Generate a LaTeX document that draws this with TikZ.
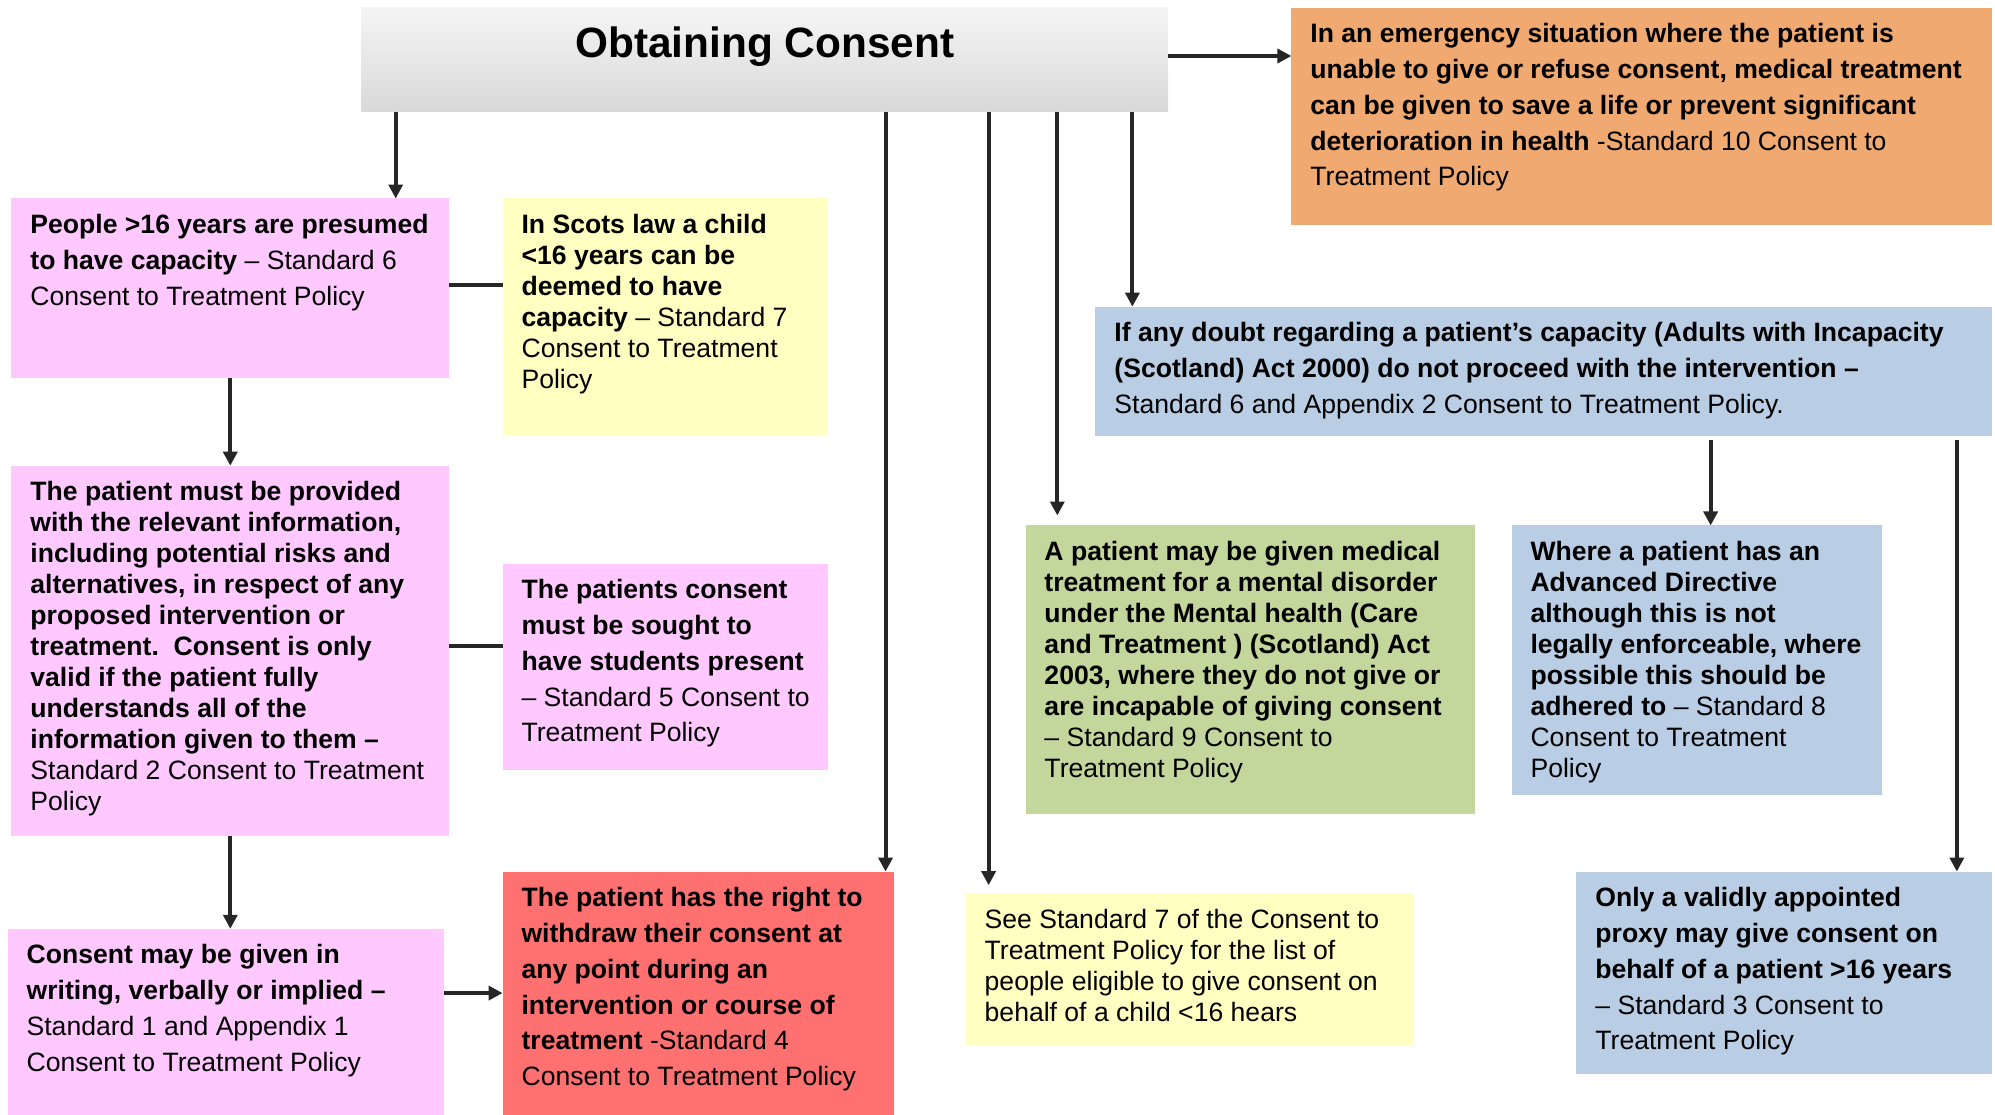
\documentclass[tikz,border=0pt]{standalone}
\usepackage{fontspec}
\setmainfont{Liberation Sans}
\usetikzlibrary{arrows.meta,calc}

\definecolor{cardpink}{HTML}{FFC9FF}
\definecolor{cardyellow}{HTML}{FFFFC1}
\definecolor{cardorange}{HTML}{F0A970}
\definecolor{cardblue}{HTML}{B9CDE4}
\definecolor{cardgreen}{HTML}{C3D69B}
\definecolor{cardred}{HTML}{FF7070}
\definecolor{linkgray}{HTML}{262626}

\newdimen\px \px=0.6366pt
% box text: width, height (in px), contents
\newcommand{\cardtext}[3]{\parbox[c][#2\px][t]{#1\px}{\raggedright\leftskip=9.5pt\rule{0pt}{17.6pt}#3}}

\tikzset{
  card/.style={anchor=north west, inner sep=0pt, outer sep=0pt, font=\fontsize{13.3}{17.9}\selectfont},
  cardS/.style={card, font=\fontsize{13.3}{15.5}\selectfont},
  arr/.style={line width=2pt, draw=linkgray, -{Triangle[length=7pt,width=7pt]}},
  link/.style={line width=2pt, draw=linkgray}
}

\begin{document}
\begin{tikzpicture}[x=0.6366pt, y=-0.6366pt]
\useasboundingbox (0,0) rectangle (1568,876);

\node[card, top color=gray!8, bottom color=gray!30] (title) at (284,6)
  {\parbox[c][82\px][t]{634\px}{\centering\fontsize{21.2}{25}\selectfont\rule{0pt}{25pt}\textbf{Obtaining Consent}}};

\node[card, fill=cardorange] (emergency) at (1015,6) {\cardtext{551}{171}{%
  \textbf{In an emergency situation where the patient is}\\
  \textbf{unable to give or refuse consent, medical treatment}\\
  \textbf{can be given to save a life or prevent significant}\\
  \textbf{deterioration in health} -Standard 10 Consent to\\
  Treatment Policy}};

\node[card, fill=cardpink] (adult) at (9,156) {\cardtext{344}{141}{%
  \textbf{People >16 years are presumed}\\
  \textbf{to have capacity} – Standard 6\\
  Consent to Treatment Policy}};

\node[cardS, fill=cardyellow] (scots) at (395,156) {\cardtext{256}{187}{%
  \textbf{In Scots law a child}\\
  \textbf{<16 years can be}\\
  \textbf{deemed to have}\\
  \textbf{capacity} – Standard 7\\
  Consent to Treatment\\
  Policy}};

\node[card, fill=cardblue] (doubt) at (861,241) {\cardtext{705}{102}{%
  \textbf{If any doubt regarding a patient’s capacity (Adults with Incapacity}\\
  \textbf{(Scotland) Act 2000) do not proceed with the intervention –}\\
  Standard 6 and Appendix 2 Consent to Treatment Policy.}};

\node[cardS, fill=cardpink] (info) at (9,366) {\cardtext{344}{291}{%
  \textbf{The patient must be provided}\\
  \textbf{with the relevant information,}\\
  \textbf{including potential risks and}\\
  \textbf{alternatives, in respect of any}\\
  \textbf{proposed intervention or}\\
  \textbf{treatment.\ \ Consent is only}\\
  \textbf{valid if the patient fully}\\
  \textbf{understands all of the}\\
  \textbf{information given to them –}\\
  Standard 2 Consent to Treatment\\
  Policy}};

\node[card, fill=cardpink] (students) at (395,443) {\cardtext{256}{162}{%
  \textbf{The patients consent}\\
  \textbf{must be sought to}\\
  \textbf{have students present}\\
  – Standard 5 Consent to\\
  Treatment Policy}};

\node[cardS, fill=cardgreen] (mental) at (806,413) {\cardtext{353}{227}{%
  \textbf{A patient may be given medical}\\
  \textbf{treatment for a mental disorder}\\
  \textbf{under the Mental health (Care}\\
  \textbf{and Treatment ) (Scotland) Act}\\
  \textbf{2003, where they do not give or}\\
  \textbf{are incapable of giving consent}\\
  – Standard 9 Consent to\\
  Treatment Policy}};

\node[cardS, fill=cardblue] (directive) at (1188,413) {\cardtext{291}{212}{%
  \textbf{Where a patient has an}\\
  \textbf{Advanced Directive}\\
  \textbf{although this is not}\\
  \textbf{legally enforceable, where}\\
  \textbf{possible this should be}\\
  \textbf{adhered to} – Standard 8\\
  Consent to Treatment\\
  Policy}};

\node[card, fill=cardpink] (forms) at (6,730) {\cardtext{343}{146}{%
  \textbf{Consent may be given in}\\
  \textbf{writing, verbally or implied –}\\
  Standard 1 and Appendix 1\\
  Consent to Treatment Policy}};

\node[card, fill=cardred] (withdraw) at (395,685) {\cardtext{308}{191}{%
  \textbf{The patient has the right to}\\
  \textbf{withdraw their consent at}\\
  \textbf{any point during an}\\
  \textbf{intervention or course of}\\
  \textbf{treatment} -Standard 4\\
  Consent to Treatment Policy}};

\node[cardS, fill=cardyellow] (childlist) at (759,702) {\cardtext{352}{119}{%
  See Standard 7 of the Consent to\\
  Treatment Policy for the list of\\
  people eligible to give consent on\\
  behalf of a child <16 hears}};

\node[card, fill=cardblue] (proxy) at (1239,685) {\cardtext{327}{159}{%
  \textbf{Only a validly appointed}\\
  \textbf{proxy may give consent on}\\
  \textbf{behalf of a patient >16 years}\\
  – Standard 3 Consent to\\
  Treatment Policy}};

% drop points on the title and the doubt box
\coordinate (t1) at ($(title.south west)+(27,0)$);
\coordinate (t2) at ($(title.south west)+(412,0)$);
\coordinate (t3) at ($(title.south west)+(493,0)$);
\coordinate (t4) at ($(title.south west)+(547,0)$);
\coordinate (t5) at ($(title.south west)+(606,0)$);
\coordinate (d1) at ($(directive.north)+(11,0)$);
\coordinate (d2) at ($(proxy.north east)+(-28,0)$);

\draw[arr] ($(title.east)+(0,-3)$) -- ($(title.east -| emergency.west)+(0,-3)$);
\draw[arr] (t1) -- (t1 |- adult.north);
\draw[arr] (t2) -- (t2 |- withdraw.north);
\draw[arr, shorten >=4pt] (t3) -- (t3 |- childlist.north);
\draw[arr, shorten >=5pt] (t4) -- (t4 |- mental.north);
\draw[arr] (t5) -- (t5 |- doubt.north);

\draw[link] (adult.east |- 0,224) -- (scots.west |- 0,224);
\draw[arr] (adult.south) -- (info.north);
\draw[link] (info.east |- 0,508) -- (students.west |- 0,508);
\draw[arr] (info.south) -- (info.south |- forms.north);
\draw[arr] (withdraw.west -| forms.east) -- (withdraw.west);

\draw[arr] ($(d1 |- doubt.south)+(0,3)$) -- (d1);
\draw[arr] ($(d2 |- doubt.south)+(0,3)$) -- (d2);
\end{tikzpicture}
\end{document}
